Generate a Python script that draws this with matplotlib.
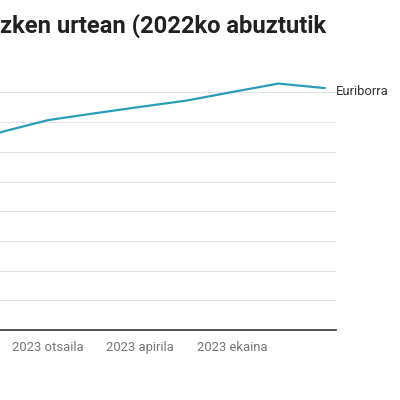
import matplotlib
matplotlib.use("Agg")
import matplotlib.pyplot as plt

plt.rcParams['font.family'] = ['Roboto', 'DejaVu Sans']

# Euriborra (12 hilabete), 2022ko abuztutik 2023ko abuztura
months = ['2022-08', '2022-09', '2022-10', '2022-11', '2022-12', '2023-01',
          '2023-02', '2023-03', '2023-04', '2023-05', '2023-06', '2023-07',
          '2023-08']
euribor = [1.249, 2.233, 2.629, 2.828, 3.018, 3.337,
           3.534, 3.647, 3.757, 3.862, 4.007, 4.149,
           4.073]
# irudian ikusten diren etiketak bakarrik
tick_idx = [6, 8, 10]
tick_labels = ['2023 otsaila', '2023 apirila', '2023 ekaina']
y_ticks = [0, 0.5, 1, 1.5, 2, 2.5, 3, 3.5, 4]
series_name = 'Euriborra'
# jatorrizko irudian izenburua ezkerretik moztuta dago
title = 'zken urtean (2022ko abuztutik'

fig = plt.figure(figsize=(4, 4), dpi=100)
# ardatzak irudiaren ezkerretik kanpo hasten dira (jatorrizkoa moztuta dago)
ax = fig.add_axes([-0.605, 0.175, 1.445, 0.64])

x = list(range(len(months)))
ax.plot(x, euribor, color='#2a9cba', lw=1.6, solid_joinstyle='miter')

ax.set_xlim(-0.3, 12.25)
ax.set_ylim(0, 4.31)
ax.set_yticks(y_ticks)
ax.set_xticks(tick_idx)
ax.set_xticklabels(tick_labels, color='#757575', fontsize=9.4)
ax.tick_params(axis='x', length=0, pad=8)
ax.tick_params(axis='y', length=0, labelleft=False)
ax.grid(axis='y', color='#e3e3e3', lw=0.8)
ax.set_axisbelow(True)
for side in ['top', 'right', 'left']:
    ax.spines[side].set_visible(False)
ax.spines['bottom'].set_color('#333333')
ax.spines['bottom'].set_linewidth(1.2)

ax.annotate(series_name, (x[-1], euribor[-1]), xytext=(8.5, -2.5),
            textcoords='offset points', va='center', ha='left',
            fontsize=9.4, color='#333333', annotation_clip=False)

fig.text(0.0, 1 - 33 / 400, title, ha='left', va='baseline',
         fontsize=17.1, fontweight='bold', color='#222222')

fig.savefig('out.png', dpi=100, facecolor='white')
